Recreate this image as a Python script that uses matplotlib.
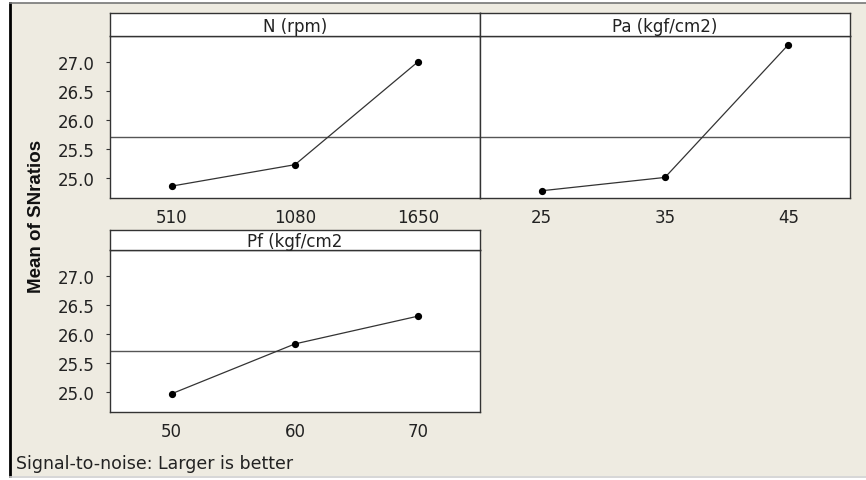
import numpy as np
import matplotlib.pyplot as plt
from matplotlib.patches import Rectangle
from matplotlib.lines import Line2D

# main effects of S/N ratios, one panel per factor
factors = ["N (rpm)", "Pa (kgf/cm2)", "Pf (kgf/cm2"]
levels = [["510", "1080", "1650"], ["25", "35", "45"], ["50", "60", "70"]]
sn_means = [[24.86, 25.23, 27.01], [24.78, 25.01, 27.30], [24.97, 25.83, 26.31]]
grand_mean = 25.70
yticks = [25.0, 25.5, 26.0, 26.5, 27.0]

W, H = 866, 481
BG = "#EEEBE1"
fig = plt.figure(figsize=(W / 100, H / 100), dpi=100)
fig.patch.set_facecolor("white")

def box(x0, y0, x1, y1):
    # pixel box (top-left origin) -> figure fraction rect
    return [x0 / W, 1 - y1 / H, (x1 - x0) / W, (y1 - y0) / H]

# beige window area with its frame lines
fig.patches.append(Rectangle((10 / W, 1 - 477 / H), (W - 10) / W, 473 / H,
                             transform=fig.transFigure, facecolor=BG, edgecolor="none", zorder=-5))
fig.lines.append(Line2D([10 / W, 10 / W], [1 - 4 / H, 1 - 477 / H], transform=fig.transFigure,
                        color="black", lw=2, zorder=-4))
fig.lines.append(Line2D([10 / W, 1], [1 - 4 / H, 1 - 4 / H], transform=fig.transFigure,
                        color="#777777", lw=1.2, zorder=-4))
fig.lines.append(Line2D([10 / W, 1], [1 - 477.5 / H, 1 - 477.5 / H], transform=fig.transFigure,
                        color="#CFCFCF", lw=1.2, zorder=-4))

panels = [(110, 480, 14, 37, 199), (480, 850, 14, 37, 199), (110, 480, 231, 251, 413)]

for i, (x0, x1, ys, yp, yb) in enumerate(panels):
    ax = fig.add_axes(box(x0, yp, x1, yb))
    ax.set_facecolor("white")
    x = np.arange(len(levels[i]))
    ax.axhline(grand_mean, color="#555555", lw=1.0, zorder=1)
    ax.plot(x, sn_means[i], color="#333333", lw=0.9, marker="o", ms=4.2,
            mfc="black", mec="black", zorder=3)
    ax.set_xlim(-0.5, 2.5)
    ax.set_ylim(24.655, 27.45)
    ax.set_xticks(x)
    ax.set_xticklabels(levels[i])
    ax.set_yticks(yticks)
    if i == 1:
        ax.set_yticklabels([])
        ax.tick_params(axis="y", length=0)
    else:
        ax.set_yticklabels([f"{v:.1f}" for v in yticks])
        ax.tick_params(axis="y", length=3, width=0.8, color="#333333", pad=8)
    ax.tick_params(axis="x", length=0, pad=7.5)
    ax.tick_params(labelsize=12, labelcolor="#222222")
    for s in ax.spines.values():
        s.set_color("#333333")
        s.set_linewidth(1.0)

    # factor name strip
    st = fig.add_axes(box(x0, ys, x1, yp))
    st.set_facecolor("white")
    st.set_xticks([])
    st.set_yticks([])
    for s in st.spines.values():
        s.set_color("#333333")
        s.set_linewidth(1.0)
    st.text(0.5, 0.45, factors[i], ha="center", va="center", fontsize=12, color="#222222",
            transform=st.transAxes)

fig.text(37 / W, 1 - 216 / H, "Mean of SNratios", rotation=90, ha="center", va="center",
         fontsize=13.5, fontweight="bold", family="Liberation Sans", color="#111111")
fig.text(16 / W, 1 - 464 / H, "Signal-to-noise: Larger is better", ha="left", va="center",
         fontsize=12.5, color="#222222")

fig.savefig("out.png", dpi=100, facecolor=fig.get_facecolor())
